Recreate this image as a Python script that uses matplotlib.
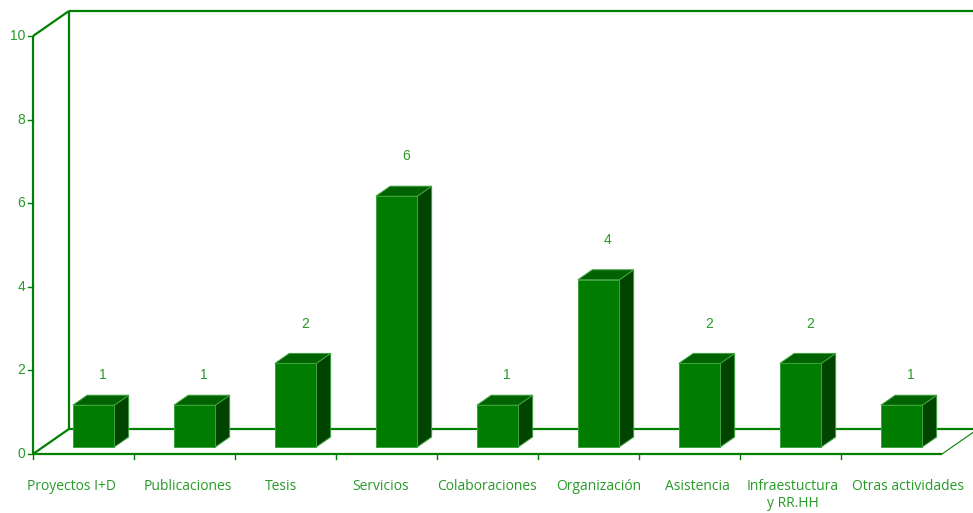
import matplotlib
matplotlib.use("Agg")
import matplotlib.pyplot as plt
from matplotlib.patches import Polygon

categories = ["Proyectos I+D", "Publicaciones", "Tesis", "Servicios", "Colaboraciones",
              "Organización", "Asistencia", "Infraestuctura\ny RR.HH", "Otras actividades"]
values = [1, 1, 2, 6, 1, 4, 2, 2, 1]
y_ticks = [0, 2, 4, 6, 8, 10]
# small horizontal nudges of the category labels (category units), as in the original
label_shift = [-0.12, 0.03, -0.04, -0.06, 0.0, 0.1, 0.08, 0.02, 0.16]

LINE = "#008000"
TEXT = "#279a27"
FRONT = "#007d00"
TOP = "#006200"
SIDE = "#004400"
EDGE = "#3da33d"

# depth offset of the 3d box, in data units
DX, DY = 0.356, 0.598
BAR_W = 0.41
D0, D1 = 0.28, 0.68   # bar depth range (fraction of the box depth)

fig = plt.figure(figsize=(9.73, 5.13), dpi=100)
ax = fig.add_axes([33 / 973, 59 / 513, 909 / 973, 418 / 513])
ax.set_xlim(0, len(categories))
ax.set_ylim(0, 10)
ax.axis("off")

n = len(categories)
kw = dict(color=LINE, lw=1.6, clip_on=False, solid_capstyle="butt")
# walls
ax.plot([0, 0], [0, 10], **kw)
ax.plot([DX, DX], [DY, 10 + DY], **kw)
ax.plot([0, DX], [10, 10 + DY], **kw)
ax.plot([DX, n + 0.31], [10 + DY, 10 + DY], **kw)
# floor
ax.plot([0, n], [0, 0], **kw)
ax.plot([DX, n + 0.31], [DY, DY], **kw)
ax.plot([0, DX], [0, DY], **kw)
ax.plot([n, n + 0.31], [0, DY * 0.31 / DX], color=LINE, lw=0.8, clip_on=False)

# ticks
for t in y_ticks:
    ax.plot([-0.05, 0], [t, t], color=LINE, lw=1, clip_on=False)
    ax.text(-0.08, t, str(t), ha="right", va="center", color=TEXT, fontsize=10,
            family="Liberation Sans")
for i in range(n):
    ax.plot([i, i], [0, -0.13], color=LINE, lw=1, clip_on=False)

# bars
for i, v in enumerate(values):
    x0 = i + 0.5 - BAR_W / 2 + D0 * DX
    y0 = D0 * DY
    x1 = x0 + BAR_W
    ddx, ddy = (D1 - D0) * DX, (D1 - D0) * DY
    front = [(x0, y0), (x1, y0), (x1, y0 + v), (x0, y0 + v)]
    top = [(x0, y0 + v), (x1, y0 + v), (x1 + ddx, y0 + v + ddy), (x0 + ddx, y0 + v + ddy)]
    side = [(x1, y0), (x1 + ddx, y0 + ddy), (x1 + ddx, y0 + v + ddy), (x1, y0 + v)]
    for pts, c in ((side, SIDE), (top, TOP), (front, FRONT)):
        ax.add_patch(Polygon(pts, closed=True, facecolor=c, edgecolor=EDGE, lw=0.7,
                             clip_on=False, zorder=3))
    off = 0.95 if v > 1 else 0.72
    ax.text(x0 + BAR_W / 2 + ddx / 2 + 0.02, y0 + v + off, str(v), ha="center",
            va="center", color=TEXT, fontsize=10, family="Liberation Sans", zorder=4)

for i, c in enumerate(categories):
    ax.text(i + 0.5 + label_shift[i], -0.6, c, ha="center", va="top", color=TEXT,
            fontsize=10, family="Open Sans", linespacing=1.2)

fig.savefig("out.png", dpi=100)
